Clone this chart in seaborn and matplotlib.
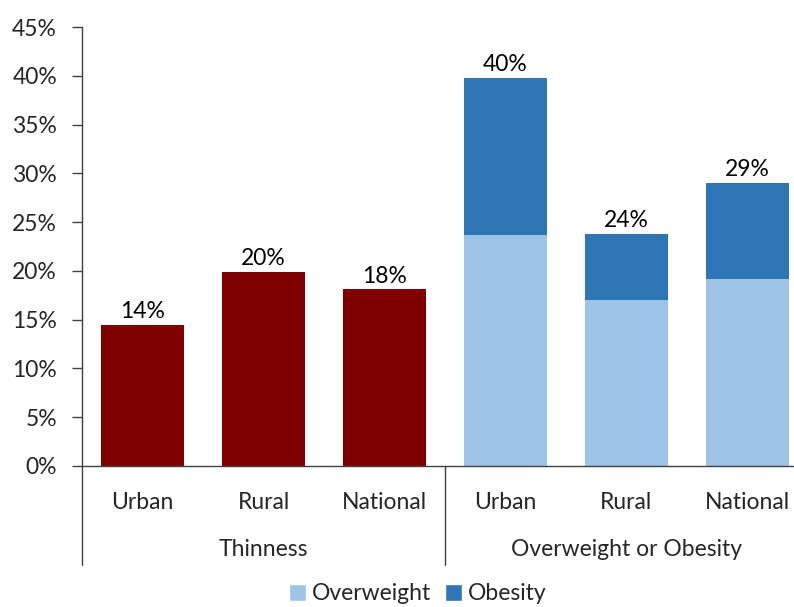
import numpy as np
import pandas as pd
import matplotlib.pyplot as plt
import matplotlib.transforms as mtransforms
from matplotlib.patches import Patch
import seaborn as sns

groups = ["Thinness", "Overweight or Obesity"]
areas = ["Urban", "Rural", "National"]
thinness = [14.5, 19.9, 18.1]
overweight = [23.7, 17.0, 19.2]
obesity_total = [39.8, 23.8, 29.0]
bar_labels = ["14%", "20%", "18%", "40%", "24%", "29%"]

red = "#800000"
light_blue = "#9dc3e6"
dark_blue = "#2e75b6"
fs = 16.5

sns.set_style("white")
plt.rcParams["font.family"] = ["Lato", "DejaVu Sans"]

slots = [g + "|" + a for g in groups for a in areas]
df = pd.DataFrame({
    "slot": slots,
    "top": thinness + obesity_total,
    "lower": [np.nan] * 3 + overweight,
})
top_colors = [red] * 3 + [dark_blue] * 3

fig = plt.figure(figsize=(7.94, 6.07), dpi=100)
ax = fig.add_axes([82 / 794, 141 / 607, 1 - 82 / 794, 439 / 607])

sns.barplot(data=df, x="slot", y="top", hue="slot", order=slots,
            palette=top_colors, width=0.69, legend=False, ax=ax,
            saturation=1, edgecolor="none")
sns.barplot(data=df, x="slot", y="lower", order=slots, color=light_blue,
            width=0.69, ax=ax, saturation=1, edgecolor="none")

for i, (val, lab) in enumerate(zip(df["top"], bar_labels)):
    ax.annotate(lab, (i, val), xytext=(0, 2), textcoords="offset points",
                ha="center", va="bottom", fontsize=fs, color="black")

ax.set_ylim(0, 45)
ax.set_xlim(-0.5, -0.5 + 712 / 121)
ax.set_yticks(np.arange(0, 46, 5))
ax.set_yticklabels([f"{v}%" for v in range(0, 46, 5)], fontsize=fs)
ax.set_xticks(range(len(slots)))
ax.set_xticklabels(areas * 2, fontsize=fs)
ax.set_xlabel("")
ax.set_ylabel("")
ax.tick_params(axis="y", left=True, length=7, width=1, color="#404040", pad=11)
ax.tick_params(axis="x", bottom=False, pad=15)

sns.despine(ax=ax, top=True, right=True)
for s in ["left", "bottom"]:
    ax.spines[s].set_color("#404040")
    ax.spines[s].set_linewidth(1)

trans = mtransforms.blended_transform_factory(ax.transData, ax.transAxes)
for xv in [-0.5, 2.5]:
    ax.plot([xv, xv], [0, -0.2255], transform=trans, color="#404040",
            lw=1, clip_on=False)
for gi, g in enumerate(groups):
    ax.text(gi * 3 + 1, -0.191, g, transform=trans, ha="center",
            va="center", fontsize=fs)

handles = [Patch(facecolor=light_blue, label="Overweight"),
           Patch(facecolor=dark_blue, label="Obesity")]
fig.legend(handles=handles, loc="center", bbox_to_anchor=(418 / 794, 13 / 607),
           ncol=2, frameon=False, fontsize=fs, handlelength=0.75,
           handleheight=0.75, handletextpad=0.25, columnspacing=0.6,
           borderpad=0)

fig.savefig("out.png", dpi=100)
